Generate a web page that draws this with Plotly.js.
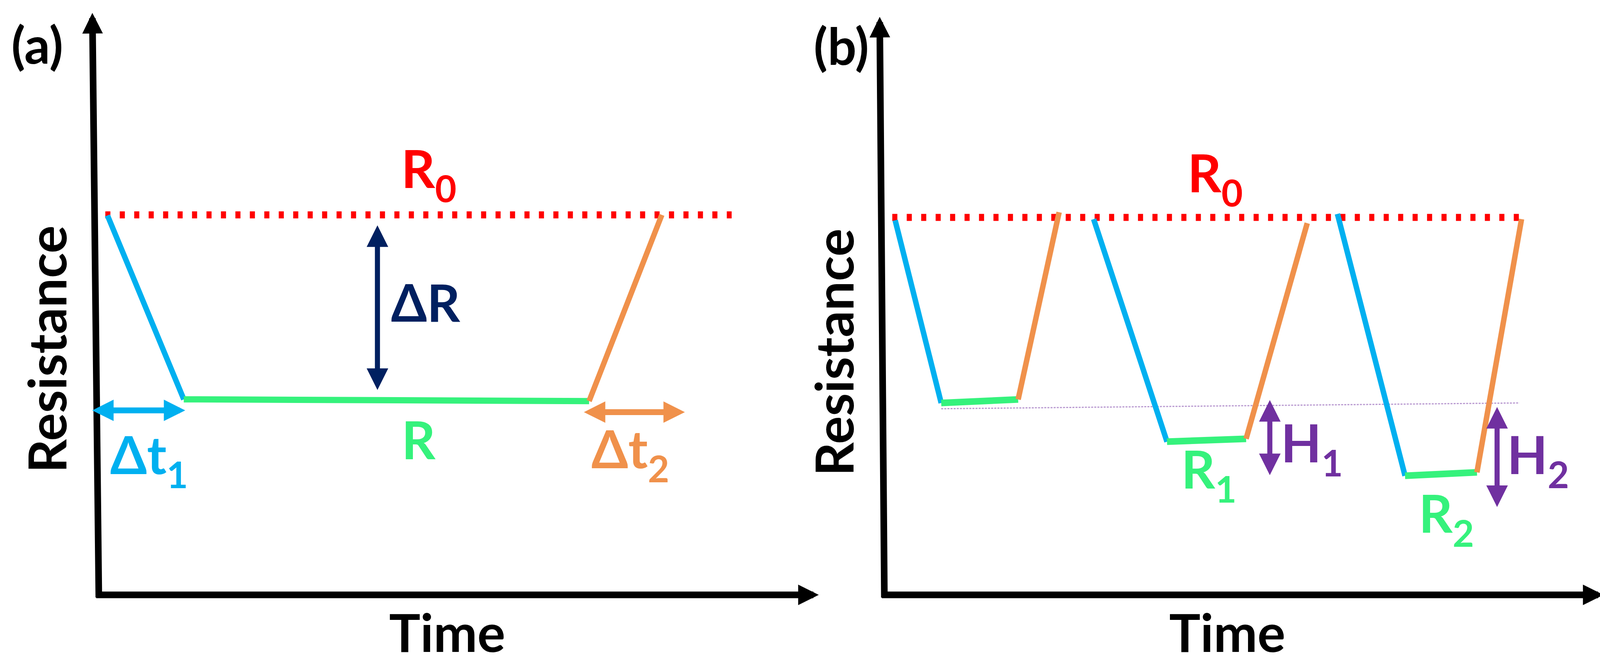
<!DOCTYPE html>
<html>
<head>
<meta charset="utf-8">
<script src="https://cdn.plot.ly/plotly-3.0.1.min.js"></script>
<style>
html,body{margin:0;padding:0;background:#ffffff;}
#chart{width:4117px;height:1704px;}
</style>
</head>
<body>
<div id="chart"></div>
<script>
// ================= DATA (arbitrary schematic units: time 0-100, resistance 0-100) =================
// Panel (a): one response / recovery cycle  [down start, down end, plateau end, recovery end]
const aTime = [1.2, 11.8, 68.1, 78.2];
const aRes  = [65.2, 33.6, 33.3, 65.3];
const aR0Level = 65.3;
const aR0Span  = [0.9, 87.9];
const aDeltaRTime = 38.7;
const aDeltaRSpan = [63.5, 35.1];
const aDt1Span = [-1.0, 12.0];
const aDt1Res  = 31.7;
const aDt2Span = [67.3, 81.4];
const aDt2Res  = 31.4;

// Panel (b): three successive cycles [down start, down end, plateau end, recovery end]
const bCycle1Time = [1.5, 7.9, 18.6, 24.3];
const bCycle1Res  = [64.8, 33.2, 33.8, 66.2];
const bCycle2Time = [29.1, 39.3, 50.3, 58.8];
const bCycle2Res  = [65.0, 26.5, 27.0, 64.3];
const bCycle3Time = [63.0, 72.4, 82.4, 88.6];
const bCycle3Res  = [65.9, 20.6, 21.2, 65.0];
const bR0Level = 65.3;
const bR0Span  = [1.1, 88.3];
const bBaselineTime = [7.9, 88.3];
const bBaselineRes  = [32.2, 33.2];
const bH1Time = 53.6;
const bH1Span = [33.7, 20.6];
const bH2Time = 85.2;
const bH2Span = [32.5, 15.1];

// ================= STYLE / LAYOUT =================
const W = 4117, H = 1704;
const C_CYAN = '#00B0F0', C_GREEN = '#35F27C', C_ORANGE = '#F0914B',
      C_RED = '#FF0000', C_NAVY = '#002060', C_PURPLE = '#7030A0';
const FONT = 'Lato, "Open Sans", "DejaVu Sans", sans-serif';

// pixel anchors of each panel's axes (origin corner and arrow tips)
const PANEL_A = {x0: 253, x1: 2096, y0: 1522, y1: 33, xr: [-8, 104], yr: [-8, 102]};
const PANEL_B = {x0: 2264, x1: 4105, y0: 1522, y1: 43, xr: [-8, 100.5], yr: [-8, 102]};

function axes(p) {
  const ux = (p.x1 - p.x0) / 100, uy = (p.y0 - p.y1) / 100;
  const xd = [(p.x0 + p.xr[0] * ux) / W, (p.x0 + p.xr[1] * ux) / W];
  const yd = [1 - (p.y0 - p.yr[0] * uy) / H, 1 - (p.y0 - p.yr[1] * uy) / H];
  const common = {showgrid: false, zeroline: false, showline: false, showticklabels: false,
                  ticks: '', fixedrange: true};
  return {
    x: Object.assign({domain: xd, range: p.xr.slice()}, common),
    y: Object.assign({domain: yd, range: p.yr.slice()}, common)
  };
}
const axA = axes(PANEL_A), axB = axes(PANEL_B);

function seg(t, r, i0, i1, color, width, xa, ya) {
  return {type: 'scatter', mode: 'lines', x: t.slice(i0, i1 + 1), y: r.slice(i0, i1 + 1),
          xaxis: xa, yaxis: ya, hoverinfo: 'skip',
          line: {color: color, width: width}};
}
function hline(span, level, color, width, dash, xa, ya) {
  return {type: 'scatter', mode: 'lines', x: span, y: [level, level], xaxis: xa, yaxis: ya,
          hoverinfo: 'skip', line: {color: color, width: width, dash: dash}};
}

const traces = [];
// panel (a)
traces.push(hline(aR0Span, aR0Level, C_RED, 18, '13px,24px', 'x', 'y'));
traces.push(seg(aTime, aRes, 0, 1, C_CYAN, 14, 'x', 'y'));
traces.push(seg(aTime, aRes, 1, 2, C_GREEN, 16, 'x', 'y'));
traces.push(seg(aTime, aRes, 2, 3, C_ORANGE, 14, 'x', 'y'));
// panel (b)
traces.push({type: 'scatter', mode: 'lines', x: bBaselineTime, y: bBaselineRes, xaxis: 'x2', yaxis: 'y2',
             hoverinfo: 'skip', line: {color: 'rgba(112,48,160,0.5)', width: 3, dash: '5px,3px'}});
traces.push(hline(bR0Span, bR0Level, C_RED, 18, '13px,24px', 'x2', 'y2'));
[[bCycle1Time, bCycle1Res], [bCycle2Time, bCycle2Res], [bCycle3Time, bCycle3Res]].forEach(function (c) {
  traces.push(seg(c[0], c[1], 0, 1, C_CYAN, 14, 'x2', 'y2'));
  traces.push(seg(c[0], c[1], 1, 2, C_GREEN, 17, 'x2', 'y2'));
  traces.push(seg(c[0], c[1], 2, 3, C_ORANGE, 14, 'x2', 'y2'));
});

// arrows
function arrow(tip, tail, xa, ya, color, width, size, both) {
  const a = {x: tip[0], y: tip[1], ax: tail[0], ay: tail[1], xref: xa, yref: ya, axref: xa, ayref: ya,
             text: '', font: {size: 1}, showarrow: true, arrowhead: 2, arrowsize: size,
             arrowwidth: width, arrowcolor: color, standoff: 0};
  if (both) {
    a.arrowside = 'end+start'; a.startarrowhead = 2; a.startarrowsize = size; a.startstandoff = 0;
  }
  return a;
}
const ann = [];
// axis arrows
ann.push(arrow([-0.9, 100], [0, -0.55], 'x', 'y', '#000', 17, 0.62, false));
ann.push(arrow([100, 0], [-0.45, 0], 'x', 'y', '#000', 17, 0.62, false));
ann.push(arrow([-0.65, 100], [0, -0.55], 'x2', 'y2', '#000', 17, 0.62, false));
ann.push(arrow([100, 0], [-0.45, 0], 'x2', 'y2', '#000', 17, 0.62, false));
// double arrows
ann.push(arrow([aDeltaRTime, aDeltaRSpan[0]], [aDeltaRTime, aDeltaRSpan[1]], 'x', 'y', C_NAVY, 13, 0.85, true));
ann.push(arrow([aDt1Span[1], aDt1Res], [aDt1Span[0], aDt1Res], 'x', 'y', C_CYAN, 15, 0.73, true));
ann.push(arrow([aDt2Span[1], aDt2Res], [aDt2Span[0], aDt2Res], 'x', 'y', C_ORANGE, 15, 0.73, true));
ann.push(arrow([bH1Time, bH1Span[0]], [bH1Time, bH1Span[1]], 'x2', 'y2', C_PURPLE, 13, 0.85, true));
ann.push(arrow([bH2Time, bH2Span[0]], [bH2Time, bH2Span[1]], 'x2', 'y2', C_PURPLE, 13, 0.85, true));

// text labels (positions in figure pixels -> paper)
const LABEL_DY = -17;
function label(text, xpx, ypx, color, size, angle) {
  const dy = angle ? 0 : LABEL_DY;
  return {text: text, x: xpx / W, y: 1 - (ypx + dy) / H, xref: 'paper', yref: 'paper',
          xanchor: 'center', yanchor: 'middle', showarrow: false, textangle: angle || 0,
          font: {family: FONT, size: size, color: color, weight: 'bold'}};
}
const SUB = function (d) { return '<sub><span style="baseline-shift:-8px">' + d + '</span></sub>'; };
ann.push(label('(a)', 95, 130, '#000', 130));
ann.push(label('(b)', 2153, 133, '#000', 130));
ann.push(label('Resistance', 118, 894, '#000', 134, -90));
ann.push(label('Resistance', 2133, 902, '#000', 134, -90));
ann.push(label('Time', 1145, 1633, '#000', 134));
ann.push(label('Time', 3142, 1633, '#000', 134));
ann.push(label('R' + SUB('0'), 1098, 459, C_RED, 135));
ann.push(label('\u0394R', 1090, 789, C_NAVY, 132));
ann.push(label('\u0394t' + SUB('1'), 381, 1191, C_CYAN, 135));
ann.push(label('R', 1072, 1140, C_GREEN, 135));
ann.push(label('\u0394t' + SUB('2'), 1613, 1176, C_ORANGE, 135));
ann.push(label('R' + SUB('0'), 3111, 470, C_RED, 135));
ann.push(label('H' + SUB('1'), 3358, 1161, C_PURPLE, 135));
ann.push(label('H' + SUB('2'), 3937, 1191, C_PURPLE, 135));
ann.push(label('R' + SUB('1'), 3095, 1228, C_GREEN, 135));
ann.push(label('R' + SUB('2'), 3703, 1341, C_GREEN, 135));

const layout = {
  width: W, height: H,
  margin: {l: 0, r: 0, t: 0, b: 0, pad: 0},
  paper_bgcolor: '#ffffff', plot_bgcolor: 'rgba(0,0,0,0)',
  showlegend: false,
  xaxis: Object.assign(axA.x, {anchor: 'y'}),
  yaxis: Object.assign(axA.y, {anchor: 'x'}),
  xaxis2: Object.assign(axB.x, {anchor: 'y2'}),
  yaxis2: Object.assign(axB.y, {anchor: 'x2'}),
  annotations: ann,
  font: {family: FONT}
};

Plotly.newPlot('chart', traces, layout, {staticPlot: true, displayModeBar: false, responsive: false});
</script>
</body>
</html>
